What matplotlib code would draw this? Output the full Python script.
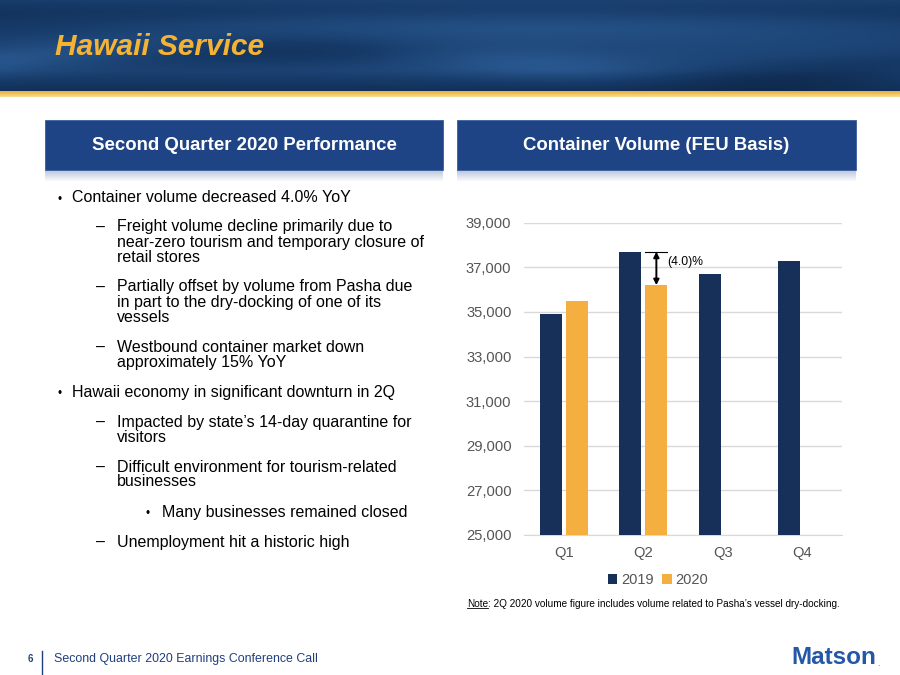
import numpy as np
import matplotlib.pyplot as plt
from matplotlib.patches import Rectangle
from matplotlib.colors import LinearSegmentedColormap

plt.rcParams['font.family'] = ['Liberation Sans', 'DejaVu Sans']

# chart data
quarters = ['Q1', 'Q2', 'Q3', 'Q4']
vol_2019 = [34900, 37700, 36700, 37300]
vol_2020 = [35500, 36200]          # only Q1 and Q2 reported
series_names = ['2019', '2020']
y_ticks = [25000, 27000, 29000, 31000, 33000, 35000, 37000, 39000]

title = 'Hawaii Service'
left_header = 'Second Quarter 2020 Performance'
right_header = 'Container Volume (FEU Basis)'
note_rest = ': 2Q 2020 volume figure includes volume related to Pasha\u2019s vessel dry-docking.'
footer = 'Second Quarter 2020 Earnings Conference Call'

# (indent level, wrapped lines)
bullets = [
    (0, ['Container volume decreased 4.0% YoY']),
    (1, ['Freight volume decline primarily due to',
         'near-zero tourism and temporary closure of',
         'retail stores']),
    (1, ['Partially offset by volume from Pasha due',
         'in part to the dry-docking of one of its',
         'vessels']),
    (1, ['Westbound container market down',
         'approximately 15% YoY']),
    (0, ['Hawaii economy in significant downturn in 2Q']),
    (1, ['Impacted by state\u2019s 14-day quarantine for',
         'visitors']),
    (1, ['Difficult environment for tourism-related',
         'businesses']),
    (2, ['Many businesses remained closed']),
    (1, ['Unemployment hit a historic high']),
]

NAVY = '#16305A'
GOLD = '#F5AF41'
BOX = '#1F4486'
FOOT = '#1F3F7F'


def draw_slide(fig):
    bg = fig.add_axes([0, 0, 1, 1])
    bg.set_xlim(0, 900)
    bg.set_ylim(675, 0)
    bg.axis('off')

    # ocean banner
    yy, xx = np.mgrid[0:91, 0:900].astype(float)
    wave = 0.45 + 0.18 * np.sin(xx / 95.0 + yy / 30.0) * np.exp(-((yy - 62 + 12 * np.sin(xx / 160.0)) / 16.0) ** 2)
    wave += 0.12 * np.sin(xx / 210.0 - 1.0) * np.exp(-((yy - 25) / 20.0) ** 2)
    wave -= 0.25 * np.clip((yy - 70) / 21.0, 0, 1)
    wave -= 0.12 * np.exp(-((yy - 10) / 12.0) ** 2)
    ocean = LinearSegmentedColormap.from_list('ocean', ['#0A1E3C', '#163A68', '#2A5A92', '#4A7FB6'])
    bg.imshow(wave, cmap=ocean, vmin=0, vmax=1, extent=(0, 900, 91, 0), aspect='auto', zorder=0)

    # gold stripe
    stripe = np.linspace(0, 1, 6).reshape(-1, 1)
    gold_cm = LinearSegmentedColormap.from_list('gold', ['#E9B23A', '#F8D98C'])
    bg.imshow(stripe, cmap=gold_cm, extent=(0, 900, 97, 91), aspect='auto', zorder=1)
    bg.set_xlim(0, 900)
    bg.set_ylim(675, 0)

    bg.text(55, 47, title, fontsize=21.5, fontweight='bold', fontstyle='italic',
            color='#F5B335', va='center', ha='left')

    # section header boxes with soft shadow
    shade_cm = LinearSegmentedColormap.from_list('shade', ['#B9C6DA', '#FFFFFF'])
    shade = np.linspace(0, 1, 20).reshape(-1, 1)
    for x0, x1, label in [(45, 443, left_header), (457, 856, right_header)]:
        bg.imshow(shade, cmap=shade_cm, extent=(x0, x1, 182, 170), aspect='auto', zorder=1)
        bg.add_patch(Rectangle((x0, 120), x1 - x0, 50, facecolor=BOX,
                               edgecolor='#3A5E9C', lw=0.6, zorder=2))
        bg.text((x0 + x1) / 2, 146, label, fontsize=13.4, fontweight='bold',
                color='white', ha='center', va='center', zorder=3)
    bg.set_xlim(0, 900)
    bg.set_ylim(675, 0)

    # bullet list
    marks = {0: ('\u2022', 58, 72, 8.5, 2.5), 1: ('\u2013', 96, 117, 11.5, 0),
             2: ('\u2022', 146, 162, 8.5, 2.5)}
    y = 197
    for i, (level, lines) in enumerate(bullets):
        if i > 0:
            y += 30
        mark, mx, tx, msize, dy = marks[level]
        bg.text(mx, y + dy, mark, fontsize=msize, va='center', ha='left', color='black')
        for j, line in enumerate(lines):
            if j > 0:
                y += 15
            bg.text(tx, y, line, fontsize=11.5, va='center', ha='left', color='black')

    # note with underlined "Note"
    t = bg.text(467, 604, 'Note', fontsize=7.2, va='center', ha='left', color='black')
    fig.canvas.draw()
    bb = t.get_window_extent().transformed(bg.transData.inverted())
    x_end = max(bb.x0, bb.x1)
    y_low = max(bb.y0, bb.y1)
    bg.plot([467, x_end], [y_low - 1.5, y_low - 1.5], color='black', lw=0.6)
    bg.text(x_end, 604, note_rest, fontsize=7.2, va='center', ha='left', color='black')

    # footer
    bg.text(30, 659, '6', fontsize=7, fontweight='bold', color=FOOT, ha='center', va='center')
    bg.plot([42, 42], [651, 675], color=FOOT, lw=1)
    bg.text(54, 659, footer, fontsize=8.9, color=FOOT, ha='left', va='center')
    bg.text(791, 657, 'Matson', fontsize=17.5, fontweight='bold', color='#2457A5',
            ha='left', va='center')
    bg.text(877, 665, '.', fontsize=6, color='#2457A5', ha='left', va='center')
    return bg


def draw_chart(fig):
    ax = fig.add_axes([524 / 900, 1 - 535 / 675, 318 / 900, 312.3 / 675])
    x = np.arange(len(quarters))
    w = 0.28
    off = 0.165
    ax.bar(x - off, vol_2019, width=w, color=NAVY, label=series_names[0], zorder=3)
    x20 = x[:len(vol_2020)] + off
    ax.bar(x20, vol_2020, width=w, color=GOLD, label=series_names[1], zorder=3)

    ax.set_xlim(-0.5, len(quarters) - 0.5)
    ax.set_ylim(y_ticks[0], y_ticks[-1])
    ax.set_yticks(y_ticks)
    ax.set_yticklabels([f'{v:,}' for v in y_ticks])
    ax.set_xticks(x)
    ax.set_xticklabels(quarters)
    ax.tick_params(axis='both', length=0, labelsize=10.6, labelcolor='#555555')
    ax.tick_params(axis='y', pad=9)
    ax.tick_params(axis='x', pad=8)
    ax.grid(axis='y', color='#D9D9D9', lw=1, zorder=0)
    for s in ax.spines.values():
        s.set_visible(False)
    ax.spines['bottom'].set_visible(True)
    ax.spines['bottom'].set_color('#D9D9D9')

    # Q2 change marker
    q = 1
    pct = (vol_2020[q] / vol_2019[q] - 1) * 100
    xa = x20[q]
    ax.plot([xa - w / 2, xa + w / 2], [vol_2019[q], vol_2019[q]], color='black', lw=0.8, zorder=4)
    ax.annotate('', xy=(xa, vol_2020[q]), xytext=(xa, vol_2019[q]),
                arrowprops=dict(arrowstyle='<|-|>', color='black', lw=1.4,
                                mutation_scale=8, shrinkA=0, shrinkB=0), zorder=5)
    ax.annotate(f'({abs(pct):.1f})%', xy=(xa + w / 2, vol_2019[q]), xytext=(0, -7.5),
                textcoords='offset points', fontsize=8.7, ha='left', va='center', color='black')

    fig.legend(loc='center', bbox_to_anchor=(658 / 900, 1 - 580 / 675), ncol=2,
               frameon=False, fontsize=10.5, handlelength=0.65, handleheight=0.65,
               handletextpad=0.25, columnspacing=0.6, labelcolor='#555555')
    return ax


fig = plt.figure(figsize=(9, 6.75), dpi=100)
draw_slide(fig)
draw_chart(fig)
fig.savefig('out.png', dpi=100)
